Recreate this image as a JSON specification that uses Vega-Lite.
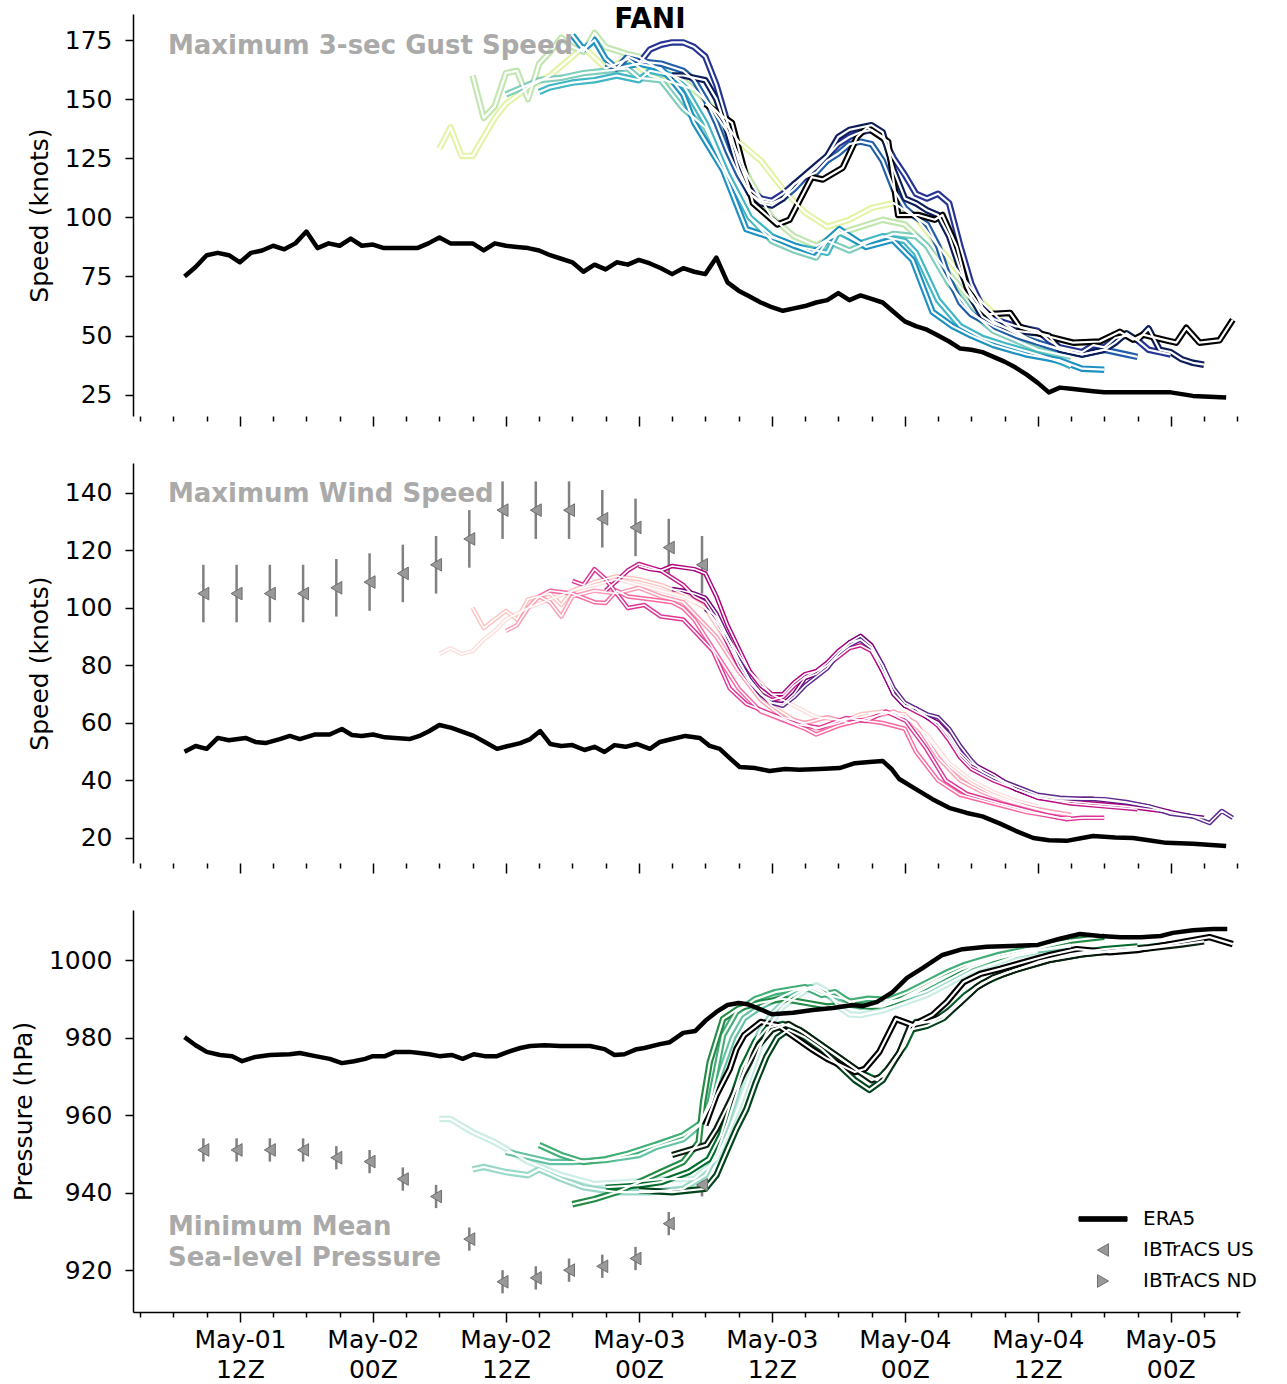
{
"$schema": "https://vega.github.io/schema/vega-lite/v6.json",
"background": "white",
"padding": {"left": 11, "top": 5, "right": 5, "bottom": 5},
"spacing": 36,
"resolve": {"scale": {"color": "independent", "fill": "independent", "stroke": "independent", "shape": "independent"}, "legend": {"color": "independent", "fill": "independent", "stroke": "independent", "shape": "independent"}},
"config": {
  "font": "DejaVu Sans",
  "view": {"stroke": null},
  "axis": {"labelFont": "DejaVu Sans", "titleFont": "DejaVu Sans", "labelFontSize": 25, "titleFontSize": 25, "titleFontWeight": "normal", "labelColor": "black", "titleColor": "black", "domainColor": "black", "tickColor": "black", "grid": false, "domainWidth": 1.5, "tickWidth": 1.5},
  "legend": {"labelFont": "DejaVu Sans", "labelFontSize": 20, "labelColor": "black", "rowPadding": 11, "labelOffset": 30, "symbolSize": 160, "padding": 0, "symbolStrokeWidth": 1, "symbolOpacity": 1}
},
"datasets": {
  "era_g": [{"h":7,"v":75},{"h":8,"v":79},{"h":9,"v":84},{"h":10,"v":85},{"h":11,"v":84},{"h":12,"v":81},{"h":13,"v":85},{"h":14,"v":86},{"h":15,"v":88},{"h":16,"v":86.5},{"h":17,"v":89},{"h":18,"v":94},{"h":19,"v":87},{"h":20,"v":89},{"h":21,"v":88},{"h":22,"v":91},{"h":23,"v":88},{"h":24,"v":88.5},{"h":25,"v":87},{"h":26,"v":87},{"h":27,"v":87},{"h":28,"v":87},{"h":29,"v":89},{"h":30,"v":91.5},{"h":31,"v":89},{"h":32,"v":89},{"h":33,"v":89},{"h":34,"v":86},{"h":35,"v":89},{"h":36,"v":88},{"h":37,"v":87.5},{"h":38,"v":87},{"h":39,"v":86},{"h":40,"v":84},{"h":41,"v":82.5},{"h":42,"v":81},{"h":43,"v":77},{"h":44,"v":80},{"h":45,"v":78},{"h":46,"v":81},{"h":47,"v":80},{"h":48,"v":82},{"h":49,"v":80.5},{"h":50,"v":78.5},{"h":51,"v":76},{"h":52,"v":78.5},{"h":53,"v":77},{"h":54,"v":76},{"h":55,"v":83},{"h":56,"v":72.5},{"h":57,"v":69},{"h":58,"v":66.5},{"h":59,"v":64},{"h":60,"v":62},{"h":61,"v":60.5},{"h":62,"v":61.5},{"h":63,"v":62.5},{"h":64,"v":64},{"h":65,"v":65},{"h":66,"v":68},{"h":67,"v":65},{"h":68,"v":67},{"h":69,"v":65.5},{"h":70,"v":64},{"h":71,"v":60},{"h":72,"v":56},{"h":73,"v":54},{"h":74,"v":52.5},{"h":75,"v":50},{"h":76,"v":47.5},{"h":77,"v":44.5},{"h":78,"v":44},{"h":79,"v":43},{"h":80,"v":41},{"h":81,"v":39},{"h":82,"v":36.5},{"h":83,"v":33.5},{"h":84,"v":30},{"h":85,"v":26},{"h":86,"v":28},{"h":87,"v":27.5},{"h":88,"v":27},{"h":89,"v":26.5},{"h":90,"v":26},{"h":92,"v":26},{"h":94,"v":26},{"h":96,"v":26},{"h":98,"v":24.5},{"h":100,"v":24},{"h":101,"v":23.8}],
  "era_w": [{"h":7,"v":50},{"h":8,"v":52},{"h":9,"v":51},{"h":10,"v":54.8},{"h":11,"v":54},{"h":12.5,"v":54.8},{"h":13.4,"v":53.4},{"h":14.3,"v":53},{"h":15.6,"v":54.4},{"h":16.5,"v":55.5},{"h":17.4,"v":54.4},{"h":18.8,"v":56},{"h":20.1,"v":56},{"h":21.2,"v":57.9},{"h":22.1,"v":55.8},{"h":23,"v":55.5},{"h":24,"v":56},{"h":25.1,"v":55},{"h":26,"v":54.8},{"h":27.3,"v":54.4},{"h":28.2,"v":55.5},{"h":29.1,"v":57.2},{"h":30,"v":59.3},{"h":31.1,"v":58.3},{"h":32.1,"v":56.9},{"h":33.1,"v":55.5},{"h":34.1,"v":53.4},{"h":35.2,"v":51},{"h":36.2,"v":52},{"h":37.3,"v":53},{"h":38.2,"v":54.4},{"h":39.1,"v":57.2},{"h":40,"v":52.7},{"h":41,"v":52},{"h":42,"v":52.3},{"h":43.1,"v":50.6},{"h":44,"v":51.7},{"h":44.9,"v":49.9},{"h":45.8,"v":52.3},{"h":46.8,"v":51.7},{"h":47.8,"v":52.7},{"h":49,"v":51},{"h":49.9,"v":53.4},{"h":51,"v":54.4},{"h":52.2,"v":55.5},{"h":53.5,"v":54.8},{"h":54.4,"v":52},{"h":55.3,"v":51},{"h":56.2,"v":47.8},{"h":57.1,"v":44.7},{"h":58.5,"v":44.3},{"h":59.8,"v":43.3},{"h":61.2,"v":44},{"h":62.5,"v":43.7},{"h":64.3,"v":44},{"h":66.1,"v":44.3},{"h":67.5,"v":46},{"h":68.8,"v":46.4},{"h":70,"v":46.8},{"h":70.8,"v":44},{"h":71.5,"v":40.5},{"h":73,"v":37},{"h":74.5,"v":33.5},{"h":76,"v":30.5},{"h":77.6,"v":28.7},{"h":79,"v":27.5},{"h":80.6,"v":25},{"h":82,"v":22.5},{"h":83.6,"v":20},{"h":85,"v":19.2},{"h":86.6,"v":19},{"h":88,"v":20},{"h":89,"v":20.7},{"h":91,"v":20.2},{"h":92.6,"v":20},{"h":94,"v":19.2},{"h":95.6,"v":18.3},{"h":98,"v":18},{"h":101,"v":17.2}],
  "era_p": [{"h":7,"v":980.1},{"h":8,"v":978},{"h":9,"v":976.3},{"h":10.2,"v":975.5},{"h":11.3,"v":975.2},{"h":12.2,"v":973.9},{"h":13.4,"v":975},{"h":14.7,"v":975.5},{"h":16.5,"v":975.7},{"h":17.4,"v":976},{"h":18.8,"v":975.2},{"h":20.1,"v":974.5},{"h":21.2,"v":973.4},{"h":22.3,"v":973.9},{"h":23.3,"v":974.5},{"h":24,"v":975.2},{"h":25.1,"v":975.2},{"h":26,"v":976.3},{"h":27.3,"v":976.3},{"h":28.2,"v":976},{"h":29.1,"v":975.7},{"h":30,"v":975.2},{"h":31.1,"v":975.5},{"h":32.1,"v":974.5},{"h":33.1,"v":975.7},{"h":34.1,"v":975.2},{"h":35.2,"v":975.2},{"h":36.2,"v":976.3},{"h":37.3,"v":977.3},{"h":38.2,"v":977.8},{"h":39.5,"v":978},{"h":40.9,"v":977.8},{"h":42.2,"v":977.8},{"h":43.6,"v":977.8},{"h":44.9,"v":977},{"h":45.8,"v":975.5},{"h":46.7,"v":975.7},{"h":47.8,"v":977},{"h":48.5,"v":977.3},{"h":49.9,"v":978.3},{"h":50.8,"v":978.8},{"h":52,"v":981.2},{"h":53.1,"v":981.7},{"h":54,"v":984.3},{"h":55,"v":986.6},{"h":56,"v":988.4},{"h":57,"v":988.9},{"h":57.8,"v":988.6},{"h":58.7,"v":987.6},{"h":60,"v":986},{"h":61.9,"v":986.4},{"h":63.7,"v":987.1},{"h":65.5,"v":987.6},{"h":67.3,"v":988.4},{"h":68.2,"v":988.1},{"h":69.5,"v":989.2},{"h":70.9,"v":991.7},{"h":72.2,"v":995.4},{"h":73.6,"v":997.9},{"h":75.4,"v":1001.3},{"h":77.2,"v":1002.8},{"h":79.4,"v":1003.4},{"h":81.6,"v":1003.6},{"h":84,"v":1003.9},{"h":86,"v":1005.5},{"h":87.8,"v":1006.7},{"h":89.6,"v":1006.2},{"h":91.5,"v":1005.9},{"h":93.3,"v":1005.9},{"h":95.1,"v":1006.2},{"h":96.2,"v":1007},{"h":98,"v":1007.7},{"h":99.8,"v":1008},{"h":101.1,"v":1008}],
  "gust": [
{"f":30,"h":30,"v":129},{"f":30,"h":31,"v":138},{"f":30,"h":32,"v":126},{"f":30,"h":33,"v":126},{"f":30,"h":34,"v":134},{"f":30,"h":35,"v":142},{"f":30,"h":36,"v":148},{"f":30,"h":38,"v":155},{"f":30,"h":40,"v":160},{"f":30,"h":42,"v":168},{"f":30,"h":43,"v":172},{"f":30,"h":45,"v":163},{"f":30,"h":47,"v":167},{"f":30,"h":49,"v":160},{"f":30,"h":51,"v":157},{"f":30,"h":53,"v":154},{"f":30,"h":55,"v":145},{"f":30,"h":57,"v":132},{"f":30,"h":59,"v":124},{"f":30,"h":61,"v":112},{"f":30,"h":63,"v":102},{"f":30,"h":65,"v":96},{"f":30,"h":67,"v":99},{"f":30,"h":69,"v":104},{"f":30,"h":71,"v":106},{"f":30,"h":73,"v":100},{"f":30,"h":75,"v":88},{"f":30,"h":77,"v":76},{"f":30,"h":79,"v":64},{"f":30,"h":81,"v":55},{"f":30,"h":83,"v":49},{"f":30,"h":84,"v":47},
{"f":33,"h":33,"v":160},{"f":33,"h":34,"v":142},{"f":33,"h":35,"v":147},{"f":33,"h":36,"v":161},{"f":33,"h":37,"v":162},{"f":33,"h":38,"v":150},{"f":33,"h":39,"v":165},{"f":33,"h":40,"v":170},{"f":33,"h":41,"v":176},{"f":33,"h":42,"v":172},{"f":33,"h":43,"v":170},{"f":33,"h":44,"v":178},{"f":33,"h":45,"v":172},{"f":33,"h":47,"v":169},{"f":33,"h":48,"v":168},{"f":33,"h":50,"v":162},{"f":33,"h":52,"v":158},{"f":33,"h":54,"v":150},{"f":33,"h":56,"v":136},{"f":33,"h":58,"v":116},{"f":33,"h":60,"v":100},{"f":33,"h":62,"v":92},{"f":33,"h":64,"v":88},{"f":33,"h":66,"v":93},{"f":33,"h":68,"v":96},{"f":33,"h":70,"v":99},{"f":33,"h":72,"v":97},{"f":33,"h":74,"v":88},{"f":33,"h":76,"v":76},{"f":33,"h":78,"v":65},{"f":33,"h":80,"v":56},{"f":33,"h":82,"v":51},{"f":33,"h":84,"v":47},{"f":33,"h":87,"v":43},
{"f":36,"h":36,"v":152},{"f":36,"h":37,"v":154},{"f":36,"h":38,"v":156},{"f":36,"h":39,"v":158},{"f":36,"h":41,"v":159},{"f":36,"h":43,"v":161},{"f":36,"h":45,"v":162},{"f":36,"h":47,"v":163},{"f":36,"h":48,"v":159},{"f":36,"h":50,"v":158},{"f":36,"h":51,"v":152},{"f":36,"h":52,"v":146},{"f":36,"h":54,"v":138},{"f":36,"h":56,"v":118},{"f":36,"h":58,"v":100},{"f":36,"h":60,"v":90},{"f":36,"h":62,"v":86},{"f":36,"h":64,"v":83},{"f":36,"h":65,"v":90},{"f":36,"h":67,"v":86},{"f":36,"h":69,"v":90},{"f":36,"h":71,"v":93},{"f":36,"h":73,"v":92},{"f":36,"h":74,"v":88},{"f":36,"h":76,"v":72},{"f":36,"h":78,"v":60},{"f":36,"h":80,"v":52},{"f":36,"h":82,"v":48},{"f":36,"h":84,"v":44},{"f":36,"h":87,"v":41},
{"f":39,"h":39,"v":153},{"f":39,"h":40,"v":155},{"f":39,"h":42,"v":157},{"f":39,"h":44,"v":158},{"f":39,"h":46,"v":160},{"f":39,"h":48,"v":158},{"f":39,"h":49,"v":162},{"f":39,"h":51,"v":160},{"f":39,"h":52,"v":156},{"f":39,"h":54,"v":140},{"f":39,"h":56,"v":118},{"f":39,"h":58,"v":100},{"f":39,"h":60,"v":92},{"f":39,"h":62,"v":88},{"f":39,"h":64,"v":86},{"f":39,"h":65,"v":85},{"f":39,"h":66,"v":94},{"f":39,"h":68,"v":89},{"f":39,"h":70,"v":92},{"f":39,"h":72,"v":90},{"f":39,"h":73,"v":85},{"f":39,"h":75,"v":65},{"f":39,"h":77,"v":54},{"f":39,"h":79,"v":49},{"f":39,"h":81,"v":46},{"f":39,"h":84,"v":42},{"f":39,"h":86,"v":39},{"f":39,"h":87,"v":37},
{"f":42,"h":42,"v":177},{"f":42,"h":43,"v":171},{"f":42,"h":44,"v":175},{"f":42,"h":45,"v":167},{"f":42,"h":46,"v":163},{"f":42,"h":48,"v":165},{"f":42,"h":50,"v":163},{"f":42,"h":51,"v":158},{"f":42,"h":52,"v":152},{"f":42,"h":53,"v":140},{"f":42,"h":55.6,"v":120},{"f":42,"h":57.7,"v":95},{"f":42,"h":59,"v":93},{"f":42,"h":61,"v":90},{"f":42,"h":63.7,"v":85},{"f":42,"h":66.1,"v":95},{"f":42,"h":68.5,"v":87.5},{"f":42,"h":70.9,"v":90.5},{"f":42,"h":72.7,"v":82},{"f":42,"h":74.5,"v":60},{"f":42,"h":76.3,"v":54},{"f":42,"h":78,"v":50},{"f":42,"h":80,"v":46},{"f":42,"h":83,"v":42},{"f":42,"h":86,"v":39.5},{"f":42,"h":88,"v":36},{"f":42,"h":90,"v":35.6},
{"f":45,"h":45,"v":165},{"f":45,"h":46,"v":163},{"f":45,"h":47,"v":168},{"f":45,"h":48,"v":166},{"f":45,"h":50,"v":165},{"f":45,"h":52,"v":162},{"f":45,"h":53,"v":158},{"f":45,"h":54,"v":150},{"f":45,"h":55,"v":140},{"f":45,"h":56,"v":128},{"f":45,"h":57,"v":118},{"f":45,"h":58,"v":110},{"f":45,"h":59,"v":107},{"f":45,"h":60,"v":106},{"f":45,"h":61,"v":108},{"f":45,"h":62,"v":112},{"f":45,"h":63,"v":117},{"f":45,"h":64,"v":119},{"f":45,"h":65,"v":124},{"f":45,"h":66,"v":127},{"f":45,"h":67,"v":131},{"f":45,"h":68,"v":132},{"f":45,"h":69,"v":131},{"f":45,"h":70,"v":124},{"f":45,"h":71,"v":112},{"f":45,"h":72,"v":104},{"f":45,"h":73,"v":100},{"f":45,"h":74,"v":97},{"f":45,"h":75,"v":88},{"f":45,"h":76,"v":74},{"f":45,"h":77,"v":64},{"f":45,"h":78,"v":59},{"f":45,"h":80,"v":54},{"f":45,"h":82,"v":50},{"f":45,"h":84,"v":47},{"f":45,"h":86,"v":44},{"f":45,"h":88,"v":42},{"f":45,"h":90,"v":44},{"f":45,"h":92,"v":42},{"f":45,"h":93,"v":41},
{"f":48,"h":48,"v":165},{"f":48,"h":49,"v":171},{"f":48,"h":50,"v":173},{"f":48,"h":51,"v":174},{"f":48,"h":52,"v":174},{"f":48,"h":53,"v":172},{"f":48,"h":54,"v":168},{"f":48,"h":55,"v":156},{"f":48,"h":56,"v":140},{"f":48,"h":57,"v":124},{"f":48,"h":58,"v":112},{"f":48,"h":59,"v":108},{"f":48,"h":60,"v":107},{"f":48,"h":61,"v":110},{"f":48,"h":62,"v":114},{"f":48,"h":63,"v":117},{"f":48,"h":64,"v":121},{"f":48,"h":65,"v":126},{"f":48,"h":66,"v":131},{"f":48,"h":67,"v":134},{"f":48,"h":68,"v":136},{"f":48,"h":69,"v":137},{"f":48,"h":70,"v":134},{"f":48,"h":71,"v":125},{"f":48,"h":72,"v":118},{"f":48,"h":73,"v":110},{"f":48,"h":74,"v":108},{"f":48,"h":75,"v":110},{"f":48,"h":76,"v":106},{"f":48,"h":77,"v":88},{"f":48,"h":78,"v":72},{"f":48,"h":79,"v":62},{"f":48,"h":80,"v":57},{"f":48,"h":82,"v":54},{"f":48,"h":84,"v":52},{"f":48,"h":85,"v":48},{"f":48,"h":86,"v":45},{"f":48,"h":88,"v":43},{"f":48,"h":89,"v":46},{"f":48,"h":90,"v":45},{"f":48,"h":91,"v":49},{"f":48,"h":92,"v":50},{"f":48,"h":93,"v":48},{"f":48,"h":94,"v":44},{"f":48,"h":95,"v":43},{"f":48,"h":96,"v":42},
{"f":51,"h":51,"v":160},{"f":51,"h":52,"v":160},{"f":51,"h":53,"v":159},{"f":51,"h":54,"v":158},{"f":51,"h":55,"v":150},{"f":51,"h":56,"v":136},{"f":51,"h":57,"v":120},{"f":51,"h":58,"v":110},{"f":51,"h":59,"v":106},{"f":51,"h":60,"v":105},{"f":51,"h":61,"v":108},{"f":51,"h":62,"v":114},{"f":51,"h":63,"v":118},{"f":51,"h":64,"v":122},{"f":51,"h":65,"v":126},{"f":51,"h":66,"v":134},{"f":51,"h":67,"v":137},{"f":51,"h":68,"v":138},{"f":51,"h":69,"v":139},{"f":51,"h":70,"v":136},{"f":51,"h":71,"v":120},{"f":51,"h":72,"v":108},{"f":51,"h":73,"v":106},{"f":51,"h":74,"v":103},{"f":51,"h":75,"v":101},{"f":51,"h":76,"v":92},{"f":51,"h":77,"v":78},{"f":51,"h":78,"v":66},{"f":51,"h":79,"v":58},{"f":51,"h":80,"v":55},{"f":51,"h":82,"v":52},{"f":51,"h":84,"v":51},{"f":51,"h":85,"v":50},{"f":51,"h":86,"v":44},{"f":51,"h":88,"v":42},{"f":51,"h":90,"v":44},{"f":51,"h":91,"v":47},{"f":51,"h":92,"v":51},{"f":51,"h":93,"v":48},{"f":51,"h":94,"v":53},{"f":51,"h":95,"v":44},{"f":51,"h":96,"v":43},{"f":51,"h":97,"v":40},{"f":51,"h":98,"v":38.5},{"f":51,"h":99,"v":37.7},
{"f":54,"h":54,"v":148},{"f":54,"h":56.4,"v":140},{"f":54,"h":58.3,"v":106},{"f":54,"h":60.5,"v":97},{"f":54,"h":61.6,"v":99},{"f":54,"h":63.6,"v":117},{"f":54,"h":64.6,"v":116},{"f":54,"h":66.4,"v":121},{"f":54,"h":67.7,"v":134},{"f":54,"h":68.6,"v":138},{"f":54,"h":70.5,"v":132},{"f":54,"h":71.4,"v":101},{"f":54,"h":73.2,"v":101},{"f":54,"h":74.7,"v":99},{"f":54,"h":75.4,"v":101},{"f":54,"h":76.7,"v":87.5},{"f":54,"h":77.6,"v":70.5},{"f":54,"h":78.8,"v":62},{"f":54,"h":79.4,"v":59},{"f":54,"h":81.5,"v":59.6},{"f":54,"h":82.4,"v":53.6},{"f":54,"h":85.1,"v":49.5},{"f":54,"h":87.2,"v":47},{"f":54,"h":89.6,"v":47.5},{"f":54,"h":91.4,"v":51.6},{"f":54,"h":92.6,"v":48.3},{"f":54,"h":93.5,"v":50.4},{"f":54,"h":95.6,"v":48},{"f":54,"h":96.5,"v":47},{"f":54,"h":97.4,"v":53.3},{"f":54,"h":98.6,"v":47},{"f":54,"h":100.4,"v":48},{"f":54,"h":101.6,"v":56.7}
  ],
  "wind": [
{"f":30,"h":30,"v":84},{"f":30,"h":31,"v":86},{"f":30,"h":32,"v":84},{"f":30,"h":33,"v":85},{"f":30,"h":34,"v":89},{"f":30,"h":35,"v":92},{"f":30,"h":36,"v":96},{"f":30,"h":38,"v":100},{"f":30,"h":40,"v":103},{"f":30,"h":42,"v":106},{"f":30,"h":44,"v":108},{"f":30,"h":46,"v":110},{"f":30,"h":48,"v":108},{"f":30,"h":50,"v":106},{"f":30,"h":52,"v":104},{"f":30,"h":54,"v":100},{"f":30,"h":56,"v":90},{"f":30,"h":58,"v":78},{"f":30,"h":60,"v":70},{"f":30,"h":62,"v":66},{"f":30,"h":64,"v":62},{"f":30,"h":66,"v":61},{"f":30,"h":68,"v":62},{"f":30,"h":70,"v":64},{"f":30,"h":72,"v":62},{"f":30,"h":74,"v":56},{"f":30,"h":76,"v":46},{"f":30,"h":78,"v":40},{"f":30,"h":80,"v":36},{"f":30,"h":82,"v":33},{"f":30,"h":84,"v":31},
{"f":33,"h":33,"v":100},{"f":33,"h":34,"v":93},{"f":33,"h":35,"v":96},{"f":33,"h":36,"v":99},{"f":33,"h":37,"v":96},{"f":33,"h":38,"v":103},{"f":33,"h":40,"v":105},{"f":33,"h":41,"v":101},{"f":33,"h":42,"v":106},{"f":33,"h":44,"v":109},{"f":33,"h":46,"v":111},{"f":33,"h":48,"v":110},{"f":33,"h":50,"v":108},{"f":33,"h":52,"v":105},{"f":33,"h":54,"v":100},{"f":33,"h":56,"v":88},{"f":33,"h":58,"v":75},{"f":33,"h":60,"v":66},{"f":33,"h":62,"v":61},{"f":33,"h":64,"v":58},{"f":33,"h":66,"v":60},{"f":33,"h":68,"v":63},{"f":33,"h":70,"v":64},{"f":33,"h":72,"v":63},{"f":33,"h":74,"v":55},{"f":33,"h":76,"v":45},{"f":33,"h":78,"v":39},{"f":33,"h":80,"v":35},{"f":33,"h":83,"v":31},{"f":33,"h":85,"v":29},{"f":33,"h":87,"v":28},
{"f":36,"h":36,"v":92},{"f":36,"h":37,"v":94},{"f":36,"h":38,"v":100},{"f":36,"h":39,"v":104},{"f":36,"h":40,"v":102},{"f":36,"h":41,"v":97},{"f":36,"h":42,"v":104},{"f":36,"h":44,"v":106},{"f":36,"h":46,"v":105},{"f":36,"h":48,"v":107},{"f":36,"h":50,"v":104},{"f":36,"h":52,"v":102},{"f":36,"h":53,"v":98},{"f":36,"h":55,"v":90},{"f":36,"h":57,"v":78},{"f":36,"h":59,"v":68},{"f":36,"h":61,"v":62},{"f":36,"h":63,"v":60},{"f":36,"h":65,"v":62},{"f":36,"h":67,"v":60},{"f":36,"h":69,"v":62},{"f":36,"h":71,"v":64},{"f":36,"h":73,"v":60},{"f":36,"h":75,"v":48},{"f":36,"h":77,"v":40},{"f":36,"h":79,"v":36},{"f":36,"h":81,"v":33},{"f":36,"h":84,"v":30},{"f":36,"h":87,"v":28},
{"f":39,"h":39,"v":104},{"f":39,"h":40,"v":106},{"f":39,"h":42,"v":105},{"f":39,"h":44,"v":102},{"f":39,"h":45,"v":101.7},{"f":39,"h":46,"v":106},{"f":39,"h":47,"v":104},{"f":39,"h":49,"v":103},{"f":39,"h":51,"v":102},{"f":39,"h":52,"v":100},{"f":39,"h":53,"v":96},{"f":39,"h":55,"v":84},{"f":39,"h":57,"v":72},{"f":39,"h":59,"v":64},{"f":39,"h":61,"v":61},{"f":39,"h":63,"v":58},{"f":39,"h":64,"v":56},{"f":39,"h":66,"v":59},{"f":39,"h":68,"v":61},{"f":39,"h":70,"v":60},{"f":39,"h":72,"v":58},{"f":39,"h":73,"v":50},{"f":39,"h":75,"v":40},{"f":39,"h":77,"v":35},{"f":39,"h":80,"v":32},{"f":39,"h":83,"v":29},{"f":39,"h":86,"v":27},{"f":39,"h":87,"v":27},
{"f":42,"h":42,"v":109.4},{"f":42,"h":43,"v":108},{"f":42,"h":44,"v":113.5},{"f":42,"h":45,"v":110},{"f":42,"h":47,"v":100},{"f":42,"h":48.5,"v":101},{"f":42,"h":50,"v":97},{"f":42,"h":52,"v":96},{"f":42,"h":53,"v":92},{"f":42,"h":54.7,"v":85},{"f":42,"h":56.2,"v":72},{"f":42,"h":57.7,"v":66.6},{"f":42,"h":60,"v":63},{"f":42,"h":62.2,"v":59.6},{"f":42,"h":64.3,"v":58.3},{"f":42,"h":66.7,"v":61.7},{"f":42,"h":68.5,"v":60.7},{"f":42,"h":70.3,"v":64},{"f":42,"h":72.1,"v":60.7},{"f":42,"h":73.9,"v":51.3},{"f":42,"h":75.7,"v":40},{"f":42,"h":77.6,"v":35.3},{"f":42,"h":80.6,"v":32},{"f":42,"h":83.6,"v":29},{"f":42,"h":86.6,"v":26.5},{"f":42,"h":88,"v":27},{"f":42,"h":90,"v":27},
{"f":45,"h":45,"v":106},{"f":45,"h":46,"v":109.4},{"f":45,"h":47,"v":113},{"f":45,"h":48,"v":115.3},{"f":45,"h":50,"v":113},{"f":45,"h":52,"v":108},{"f":45,"h":53,"v":104},{"f":45,"h":54,"v":102},{"f":45,"h":55,"v":96},{"f":45,"h":56,"v":88},{"f":45,"h":57,"v":80},{"f":45,"h":58,"v":74},{"f":45,"h":59,"v":70},{"f":45,"h":60,"v":68},{"f":45,"h":61,"v":69},{"f":45,"h":62,"v":73},{"f":45,"h":63,"v":76},{"f":45,"h":64,"v":78},{"f":45,"h":65,"v":80},{"f":45,"h":66,"v":83},{"f":45,"h":67,"v":86},{"f":45,"h":68,"v":87},{"f":45,"h":69,"v":85},{"f":45,"h":70,"v":78},{"f":45,"h":71,"v":70},{"f":45,"h":72,"v":66},{"f":45,"h":73,"v":64},{"f":45,"h":74,"v":62},{"f":45,"h":75,"v":59},{"f":45,"h":76,"v":54},{"f":45,"h":77,"v":48},{"f":45,"h":78,"v":44},{"f":45,"h":80,"v":40},{"f":45,"h":82,"v":37},{"f":45,"h":84,"v":34},{"f":45,"h":87,"v":32},{"f":45,"h":90,"v":31},{"f":45,"h":93,"v":30},
{"f":48,"h":48,"v":114.6},{"f":48,"h":49,"v":113.5},{"f":48,"h":50,"v":113},{"f":48,"h":51,"v":114.6},{"f":48,"h":53,"v":113.5},{"f":48,"h":54,"v":112},{"f":48,"h":55,"v":104},{"f":48,"h":56,"v":94},{"f":48,"h":57,"v":86},{"f":48,"h":58,"v":78},{"f":48,"h":59,"v":73},{"f":48,"h":60,"v":70},{"f":48,"h":61,"v":70},{"f":48,"h":62,"v":74},{"f":48,"h":63,"v":77},{"f":48,"h":64,"v":78},{"f":48,"h":65,"v":81},{"f":48,"h":66,"v":85},{"f":48,"h":67,"v":88},{"f":48,"h":68,"v":89},{"f":48,"h":69,"v":86},{"f":48,"h":70,"v":78},{"f":48,"h":71,"v":70},{"f":48,"h":72,"v":66},{"f":48,"h":73,"v":65},{"f":48,"h":74,"v":62},{"f":48,"h":75,"v":60},{"f":48,"h":76,"v":55},{"f":48,"h":77,"v":49},{"f":48,"h":78,"v":45},{"f":48,"h":80,"v":41},{"f":48,"h":82,"v":37},{"f":48,"h":84,"v":34},{"f":48,"h":86,"v":33},{"f":48,"h":89,"v":32},{"f":48,"h":92,"v":31},{"f":48,"h":94,"v":30},{"f":48,"h":96,"v":29},
{"f":51,"h":51,"v":106.6},{"f":51,"h":52,"v":106},{"f":51,"h":53,"v":105},{"f":51,"h":54,"v":103.5},{"f":51,"h":55,"v":98},{"f":51,"h":56,"v":90},{"f":51,"h":57,"v":82},{"f":51,"h":58,"v":75},{"f":51,"h":59,"v":70},{"f":51,"h":60,"v":67},{"f":51,"h":61,"v":66.6},{"f":51,"h":62,"v":70},{"f":51,"h":63,"v":75.6},{"f":51,"h":64,"v":77},{"f":51,"h":65,"v":80},{"f":51,"h":66,"v":84},{"f":51,"h":67,"v":88},{"f":51,"h":68,"v":90.3},{"f":51,"h":69,"v":87},{"f":51,"h":70,"v":80},{"f":51,"h":71,"v":70},{"f":51,"h":72,"v":66},{"f":51,"h":73,"v":65},{"f":51,"h":74,"v":62},{"f":51,"h":75,"v":60},{"f":51,"h":76,"v":56},{"f":51,"h":77,"v":50},{"f":51,"h":78,"v":46},{"f":51,"h":80,"v":42},{"f":51,"h":82,"v":37},{"f":51,"h":84,"v":34.5},{"f":51,"h":86,"v":33.6},{"f":51,"h":89,"v":33.6},{"f":51,"h":92,"v":32.3},{"f":51,"h":94,"v":31},{"f":51,"h":96,"v":29},{"f":51,"h":98,"v":27.5},{"f":51,"h":99,"v":27},
{"f":54,"h":54,"v":99.7},{"f":54,"h":55,"v":97},{"f":54,"h":56,"v":90},{"f":54,"h":57,"v":82},{"f":54,"h":58,"v":75},{"f":54,"h":59,"v":70},{"f":54,"h":60,"v":67},{"f":54,"h":61,"v":66},{"f":54,"h":62,"v":69},{"f":54,"h":63,"v":73},{"f":54,"h":64,"v":76},{"f":54,"h":65,"v":79},{"f":54,"h":66,"v":84},{"f":54,"h":67,"v":87},{"f":54,"h":68,"v":89},{"f":54,"h":69,"v":86},{"f":54,"h":70,"v":80},{"f":54,"h":71,"v":72},{"f":54,"h":72,"v":67},{"f":54,"h":73,"v":65},{"f":54,"h":74,"v":63},{"f":54,"h":75,"v":62},{"f":54,"h":76,"v":58},{"f":54,"h":77,"v":52},{"f":54,"h":78,"v":47},{"f":54,"h":79,"v":43},{"f":54,"h":80,"v":41},{"f":54,"h":82,"v":38},{"f":54,"h":84,"v":35},{"f":54,"h":86,"v":34},{"f":54,"h":88,"v":33.6},{"f":54,"h":90,"v":33.5},{"f":54,"h":92,"v":32.5},{"f":54,"h":94,"v":31},{"f":54,"h":96,"v":28.4},{"f":54,"h":98,"v":27.5},{"f":54,"h":99.5,"v":25.2},{"f":54,"h":100.6,"v":29.4},{"f":54,"h":101.6,"v":27}
  ],
  "pres": [
{"f":30,"h":30,"v":959},{"f":30,"h":31,"v":959},{"f":30,"h":33,"v":955.6},{"f":30,"h":35,"v":953},{"f":30,"h":38,"v":948},{"f":30,"h":41,"v":944.5},{"f":30,"h":44,"v":942.2},{"f":30,"h":47,"v":942.7},{"f":30,"h":50,"v":943.5},{"f":30,"h":53,"v":943.5},{"f":30,"h":55,"v":948.6},{"f":30,"h":56,"v":955},{"f":30,"h":57,"v":962},{"f":30,"h":58,"v":970},{"f":30,"h":59,"v":978},{"f":30,"h":60,"v":984},{"f":30,"h":61,"v":988},{"f":30,"h":62,"v":990},{"f":30,"h":63,"v":992},{"f":30,"h":64,"v":993.5},{"f":30,"h":65,"v":992},{"f":30,"h":66,"v":988},{"f":30,"h":67,"v":986},{"f":30,"h":68,"v":985.8},{"f":30,"h":70,"v":987},{"f":30,"h":72,"v":989},{"f":30,"h":74,"v":991},{"f":30,"h":76,"v":994},{"f":30,"h":78,"v":997},{"f":30,"h":80,"v":999},{"f":30,"h":82,"v":1001},{"f":30,"h":84,"v":1002},
{"f":33,"h":33,"v":946},{"f":33,"h":34,"v":946.6},{"f":33,"h":36,"v":945.3},{"f":33,"h":38,"v":944.5},{"f":33,"h":39,"v":946},{"f":33,"h":41,"v":943.5},{"f":33,"h":43,"v":941.4},{"f":33,"h":46,"v":940.1},{"f":33,"h":49,"v":940.1},{"f":33,"h":52,"v":941},{"f":33,"h":54,"v":944.5},{"f":33,"h":55,"v":950},{"f":33,"h":56,"v":958},{"f":33,"h":57,"v":967},{"f":33,"h":58,"v":976},{"f":33,"h":59,"v":982},{"f":33,"h":60,"v":986},{"f":33,"h":61,"v":989},{"f":33,"h":62,"v":991},{"f":33,"h":63,"v":992.5},{"f":33,"h":64,"v":993},{"f":33,"h":65,"v":991},{"f":33,"h":66,"v":989},{"f":33,"h":68,"v":988},{"f":33,"h":70,"v":988},{"f":33,"h":72,"v":990},{"f":33,"h":74,"v":992},{"f":33,"h":76,"v":995},{"f":33,"h":78,"v":998},{"f":33,"h":80,"v":1000},{"f":33,"h":82,"v":1001.5},{"f":33,"h":84,"v":1002.5},{"f":33,"h":87,"v":1003.5},
{"f":36,"h":36,"v":950.5},{"f":36,"h":38,"v":949.2},{"f":36,"h":40,"v":947.9},{"f":36,"h":42,"v":947.9},{"f":36,"h":45,"v":948.4},{"f":36,"h":48,"v":949.7},{"f":36,"h":49.5,"v":951.7},{"f":36,"h":52,"v":953.8},{"f":36,"h":53.5,"v":957.4},{"f":36,"h":54.5,"v":963},{"f":36,"h":55.5,"v":972},{"f":36,"h":56.5,"v":980},{"f":36,"h":57.5,"v":985},{"f":36,"h":59,"v":988},{"f":36,"h":60.5,"v":990},{"f":36,"h":62,"v":992},{"f":36,"h":63.5,"v":993},{"f":36,"h":65,"v":991},{"f":36,"h":66.5,"v":990},{"f":36,"h":68,"v":988},{"f":36,"h":70,"v":989},{"f":36,"h":72,"v":990},{"f":36,"h":74,"v":993},{"f":36,"h":76,"v":996},{"f":36,"h":78,"v":999},{"f":36,"h":80,"v":1000.5},{"f":36,"h":83,"v":1002},{"f":36,"h":87,"v":1004},
{"f":39,"h":39,"v":952.3},{"f":39,"h":41,"v":949.7},{"f":39,"h":43,"v":947.9},{"f":39,"h":45,"v":948.6},{"f":39,"h":47,"v":950},{"f":39,"h":49.5,"v":952.3},{"f":39,"h":52,"v":954.8},{"f":39,"h":53.5,"v":957.7},{"f":39,"h":54.4,"v":963.4},{"f":39,"h":55,"v":971.9},{"f":39,"h":55.6,"v":980.6},{"f":39,"h":56.8,"v":986.6},{"f":39,"h":58.5,"v":989.9},{"f":39,"h":60.3,"v":991.7},{"f":39,"h":61.9,"v":992.5},{"f":39,"h":63,"v":993},{"f":39,"h":64.5,"v":991},{"f":39,"h":65.7,"v":991.7},{"f":39,"h":67,"v":989.2},{"f":39,"h":68.7,"v":990},{"f":39,"h":70.5,"v":989.7},{"f":39,"h":72.3,"v":991.7},{"f":39,"h":74.1,"v":994.3},{"f":39,"h":75.9,"v":996.9},{"f":39,"h":77.4,"v":998.7},{"f":39,"h":78.9,"v":1000},{"f":39,"h":80.5,"v":1001.3},{"f":39,"h":83,"v":1002.8},{"f":39,"h":86,"v":1004.5},{"f":39,"h":87,"v":1005},
{"f":42,"h":42,"v":937},{"f":42,"h":44,"v":938.3},{"f":42,"h":46,"v":940.1},{"f":42,"h":48,"v":942.7},{"f":42,"h":50,"v":945.3},{"f":42,"h":52,"v":947.9},{"f":42,"h":53.4,"v":953},{"f":42,"h":53.8,"v":963.4},{"f":42,"h":54.4,"v":973.7},{"f":42,"h":55.6,"v":984.8},{"f":42,"h":57,"v":987.5},{"f":42,"h":59,"v":989},{"f":42,"h":61,"v":990},{"f":42,"h":63,"v":989},{"f":42,"h":65,"v":988},{"f":42,"h":67,"v":988.5},{"f":42,"h":69,"v":988},{"f":42,"h":71,"v":989},{"f":42,"h":73,"v":992},{"f":42,"h":75,"v":995},{"f":42,"h":77,"v":997.5},{"f":42,"h":79,"v":999.5},{"f":42,"h":81,"v":1001},{"f":42,"h":84,"v":1003},{"f":42,"h":87,"v":1005},{"f":42,"h":90,"v":1006},
{"f":45,"h":45,"v":941.4},{"f":45,"h":48,"v":941.9},{"f":45,"h":50,"v":942.7},{"f":45,"h":52.5,"v":945.3},{"f":45,"h":54.3,"v":948.6},{"f":45,"h":55.4,"v":954.8},{"f":45,"h":56.3,"v":963.4},{"f":45,"h":57.3,"v":972},{"f":45,"h":58.5,"v":979},{"f":45,"h":59.6,"v":982.5},{"f":45,"h":61,"v":983.5},{"f":45,"h":62.5,"v":982},{"f":45,"h":64,"v":979},{"f":45,"h":66,"v":975},{"f":45,"h":68,"v":971},{"f":45,"h":69.5,"v":969},{"f":45,"h":70.5,"v":972},{"f":45,"h":72,"v":978},{"f":45,"h":73,"v":984},{"f":45,"h":74.5,"v":984},{"f":45,"h":76,"v":987},{"f":45,"h":77.5,"v":991},{"f":45,"h":79,"v":994},{"f":45,"h":81,"v":996.5},{"f":45,"h":84,"v":999.5},{"f":45,"h":87,"v":1001.5},{"f":45,"h":90,"v":1002.8},{"f":45,"h":93,"v":1003.5},
{"f":48,"h":48,"v":940.6},{"f":48,"h":51,"v":940.1},{"f":48,"h":54,"v":941},{"f":48,"h":55,"v":944.5},{"f":48,"h":55.9,"v":950.5},{"f":48,"h":56.8,"v":956.4},{"f":48,"h":57.7,"v":961.5},{"f":48,"h":58.5,"v":968},{"f":48,"h":59.5,"v":975},{"f":48,"h":60.5,"v":980},{"f":48,"h":61.5,"v":982},{"f":48,"h":63,"v":980},{"f":48,"h":64.5,"v":977},{"f":48,"h":66,"v":973},{"f":48,"h":67.5,"v":969},{"f":48,"h":68.8,"v":966.5},{"f":48,"h":70,"v":969},{"f":48,"h":71.5,"v":976},{"f":48,"h":72.5,"v":982},{"f":48,"h":74,"v":983},{"f":48,"h":75.5,"v":985},{"f":48,"h":77,"v":989},{"f":48,"h":78.5,"v":993},{"f":48,"h":80,"v":995.5},{"f":48,"h":82,"v":997.5},{"f":48,"h":85,"v":1000},{"f":48,"h":88,"v":1001.5},{"f":48,"h":91,"v":1002.5},{"f":48,"h":94,"v":1003.3},{"f":48,"h":96,"v":1004},
{"f":51,"h":51,"v":949.7},{"f":51,"h":54.1,"v":952.3},{"f":51,"h":55,"v":956.4},{"f":51,"h":56.2,"v":963.4},{"f":51,"h":57.5,"v":971},{"f":51,"h":58.8,"v":978},{"f":51,"h":60,"v":982},{"f":51,"h":61.5,"v":983.5},{"f":51,"h":63,"v":981},{"f":51,"h":64.5,"v":978},{"f":51,"h":66,"v":975},{"f":51,"h":67.5,"v":972},{"f":51,"h":69,"v":969},{"f":51,"h":70,"v":970},{"f":51,"h":71.5,"v":976},{"f":51,"h":72.5,"v":983},{"f":51,"h":74,"v":984},{"f":51,"h":75.5,"v":985.5},{"f":51,"h":77,"v":989},{"f":51,"h":78.5,"v":993},{"f":51,"h":80,"v":995.5},{"f":51,"h":82,"v":997.5},{"f":51,"h":85,"v":1000},{"f":51,"h":88,"v":1001.5},{"f":51,"h":91,"v":1002.3},{"f":51,"h":94,"v":1003},{"f":51,"h":97,"v":1004},{"f":51,"h":99,"v":1004.8},
{"f":54,"h":54,"v":957.4},{"f":54,"h":55,"v":965.2},{"f":54,"h":56.2,"v":971.9},{"f":54,"h":56.8,"v":977},{"f":54,"h":57.5,"v":980.6},{"f":54,"h":59,"v":984},{"f":54,"h":60.5,"v":983.2},{"f":54,"h":63.6,"v":977},{"f":54,"h":65,"v":974.5},{"f":54,"h":67.5,"v":971.1},{"f":54,"h":68.4,"v":971.9},{"f":54,"h":69.7,"v":976.3},{"f":54,"h":71.2,"v":984.8},{"f":54,"h":72.7,"v":983.2},{"f":54,"h":74.5,"v":985.8},{"f":54,"h":75.8,"v":989.2},{"f":54,"h":77.3,"v":994.3},{"f":54,"h":78.8,"v":996.4},{"f":54,"h":80.6,"v":997.7},{"f":54,"h":85.1,"v":1001.3},{"f":54,"h":87.5,"v":1002.8},{"f":54,"h":90.5,"v":1002},{"f":54,"h":93,"v":1002.6},{"f":54,"h":95.6,"v":1003.9},{"f":54,"h":99.5,"v":1005.9},{"f":54,"h":101.6,"v":1004.1}
  ],
  "ibw": [{"h":8.7,"v":105},{"h":11.7,"v":105},{"h":14.7,"v":105},{"h":17.7,"v":105},{"h":20.7,"v":107},{"h":23.7,"v":109},{"h":26.7,"v":112},{"h":29.7,"v":115},{"h":32.7,"v":124},{"h":35.7,"v":134},{"h":38.7,"v":134},{"h":41.7,"v":134},{"h":44.7,"v":131},{"h":47.7,"v":128},{"h":50.7,"v":121},{"h":53.7,"v":115}],
  "ibw_bar": [{"h":8.7,"v":95,"v2":115},{"h":11.7,"v":95,"v2":115},{"h":14.7,"v":95,"v2":115},{"h":17.7,"v":95,"v2":115},{"h":20.7,"v":97,"v2":117},{"h":23.7,"v":99,"v2":119},{"h":26.7,"v":102,"v2":122},{"h":29.7,"v":105,"v2":125},{"h":32.7,"v":114,"v2":134},{"h":35.7,"v":124,"v2":144},{"h":38.7,"v":124,"v2":144},{"h":41.7,"v":124,"v2":144},{"h":44.7,"v":121,"v2":141},{"h":47.7,"v":118,"v2":138},{"h":50.7,"v":111,"v2":131},{"h":53.7,"v":105,"v2":125}],
  "ibp": [{"h":8.7,"v":951,"src":"IBTrACS US"},{"h":11.7,"v":951,"src":"IBTrACS US"},{"h":14.7,"v":951,"src":"IBTrACS US"},{"h":17.7,"v":951,"src":"IBTrACS US"},{"h":20.7,"v":949,"src":"IBTrACS US"},{"h":23.7,"v":948,"src":"IBTrACS US"},{"h":26.7,"v":943.5,"src":"IBTrACS US"},{"h":29.7,"v":939,"src":"IBTrACS US"},{"h":32.7,"v":928,"src":"IBTrACS US"},{"h":35.7,"v":917,"src":"IBTrACS US"},{"h":38.7,"v":918,"src":"IBTrACS US"},{"h":41.7,"v":920,"src":"IBTrACS US"},{"h":44.7,"v":921,"src":"IBTrACS US"},{"h":47.7,"v":923,"src":"IBTrACS US"},{"h":50.7,"v":932,"src":"IBTrACS US"},{"h":53.7,"v":942,"src":"IBTrACS US"}],
  "ibp_bar": [{"h":8.7,"v":948,"v2":954},{"h":11.7,"v":948,"v2":954},{"h":14.7,"v":948,"v2":954},{"h":17.7,"v":948,"v2":954},{"h":20.7,"v":946,"v2":952},{"h":23.7,"v":945,"v2":951},{"h":26.7,"v":940.5,"v2":946.5},{"h":29.7,"v":936,"v2":942},{"h":32.7,"v":925,"v2":931},{"h":35.7,"v":914,"v2":920},{"h":38.7,"v":915,"v2":921},{"h":41.7,"v":917,"v2":923},{"h":44.7,"v":918,"v2":924},{"h":47.7,"v":920,"v2":926},{"h":50.7,"v":929,"v2":935},{"h":53.7,"v":939,"v2":945}]
},
"vconcat": [
 {
  "width": 1107, "height": 402,
  "encoding": {
    "x": {"field": "h", "type": "quantitative", "scale": {"domain": [2.35, 102.25], "nice": false, "zero": false},
          "axis": {"values": [3,6,9,12,15,18,21,24,27,30,33,36,39,42,45,48,51,54,57,60,63,66,69,72,75,78,81,84,87,90,93,96,99,102], "labels": false, "domain": false, "title": null, "tickSize": {"condition": {"test": "datum.value % 12 === 0", "value": 10}, "value": 5}}},
    "y": {"field": "v", "type": "quantitative", "scale": {"domain": [16, 186], "nice": false, "zero": false},
          "axis": {"values": [25,50,75,100,125,150,175], "tickSize": 8, "labelPadding": 13, "titlePadding": 12, "title": "Speed (knots)"}}
  },
  "layer": [
    {"data": {"name": "gust"}, "mark": {"type": "line", "strokeWidth": 6.5, "strokeJoin": "round"},
     "encoding": {"color": {"field": "f", "type": "nominal", "legend": null, "scale": {"domain": [30,33,36,39,42,45,48,51,54], "range": ["#e3f4a8","#c2e6b0","#7fcdbb","#41b6c4","#1d91c0","#225ea8","#253494","#0c1d5a","#000000"]}}}},
    {"data": {"name": "gust"}, "mark": {"type": "line", "strokeWidth": 2.2, "color": "white", "strokeJoin": "round"},
     "encoding": {"detail": {"field": "f", "type": "nominal"}}},
    {"data": {"name": "era_g"}, "mark": {"type": "line", "strokeWidth": 4.5, "color": "black", "strokeJoin": "round"}, "encoding": {}},
    {"data": {"values": [{"h": 5.5, "v": 172.5, "t": "Maximum 3-sec Gust Speed"}]}, "mark": {"type": "text", "align": "left", "baseline": "middle", "fontSize": 26, "fontWeight": "bold", "color": "#aaaaaa", "font": "DejaVu Sans"}, "encoding": {"text": {"field": "t"}}},
    {"data": {"values": [{"h": 49, "v": 183.5, "t": "FANI"}]}, "mark": {"type": "text", "align": "center", "baseline": "middle", "fontSize": 28, "fontWeight": "bold", "color": "black", "font": "DejaVu Sans"}, "encoding": {"text": {"field": "t"}}}
  ]
 },
 {
  "width": 1107, "height": 400,
  "encoding": {
    "x": {"field": "h", "type": "quantitative", "scale": {"domain": [2.35, 102.25], "nice": false, "zero": false},
          "axis": {"values": [3,6,9,12,15,18,21,24,27,30,33,36,39,42,45,48,51,54,57,60,63,66,69,72,75,78,81,84,87,90,93,96,99,102], "labels": false, "domain": false, "title": null, "tickSize": {"condition": {"test": "datum.value % 12 === 0", "value": 10}, "value": 5}}},
    "y": {"field": "v", "type": "quantitative", "scale": {"domain": [11.3, 150.4], "nice": false, "zero": false},
          "axis": {"values": [20,40,60,80,100,120,140], "tickSize": 8, "labelPadding": 13, "titlePadding": 12, "title": "Speed (knots)"}}
  },
  "layer": [
    {"data": {"name": "ibw_bar"}, "mark": {"type": "rule", "color": "#808080", "strokeWidth": 2.5}, "encoding": {"y2": {"field": "v2"}}},
    {"data": {"name": "ibw"}, "mark": {"type": "point", "shape": "triangle-left", "filled": true, "fill": "#999999", "stroke": "#6e6e6e", "strokeWidth": 1, "size": 160, "opacity": 1}, "encoding": {}},
    {"data": {"name": "wind"}, "mark": {"type": "line", "strokeWidth": 4.5, "strokeJoin": "round"},
     "encoding": {"color": {"field": "f", "type": "nominal", "legend": null, "scale": {"domain": [30,33,36,39,42,45,48,51,54], "range": ["#fde0dd","#fcc5c0","#fa9fb5","#f768a1","#dd3497","#c51b8a","#ae017e","#7a0177","#5c2a8c"]}}}},
    {"data": {"name": "wind"}, "mark": {"type": "line", "strokeWidth": 1.6, "color": "white", "strokeJoin": "round"},
     "encoding": {"detail": {"field": "f", "type": "nominal"}}},
    {"data": {"name": "era_w"}, "mark": {"type": "line", "strokeWidth": 4.5, "color": "black", "strokeJoin": "round"}, "encoding": {}},
    {"data": {"values": [{"h": 5.5, "v": 139.7, "t": "Maximum Wind Speed"}]}, "mark": {"type": "text", "align": "left", "baseline": "middle", "fontSize": 26, "fontWeight": "bold", "color": "#aaaaaa", "font": "DejaVu Sans"}, "encoding": {"text": {"field": "t"}}}
  ]
 },
 {
  "width": 1107, "height": 402,
  "encoding": {
    "x": {"field": "h", "type": "quantitative", "scale": {"domain": [2.35, 102.25], "nice": false, "zero": false},
          "axis": {"values": [3,6,9,12,15,18,21,24,27,30,33,36,39,42,45,48,51,54,57,60,63,66,69,72,75,78,81,84,87,90,93,96,99,102], "title": null, "domain": true, "labelOverlap": false, "labelFlush": false, "labelPadding": 5, "labelLineHeight": 30, "labelBaseline": "top",
                   "labelExpr": "datum.value % 12 === 0 ? ['May-0' + (1 + floor(datum.value / 24)), (datum.value % 24 === 0 ? '00Z' : '12Z')] : ''",
                   "tickSize": {"condition": {"test": "datum.value % 12 === 0", "value": 10}, "value": 5}}},
    "y": {"field": "v", "type": "quantitative", "scale": {"domain": [909.2, 1012.9], "nice": false, "zero": false},
          "axis": {"values": [920,940,960,980,1000], "format": "d", "tickSize": 8, "labelPadding": 13, "titlePadding": 12, "title": "Pressure (hPa)"}}
  },
  "layer": [
    {"data": {"name": "ibp_bar"}, "mark": {"type": "rule", "color": "#808080", "strokeWidth": 2.5}, "encoding": {"y2": {"field": "v2"}}},
    {"data": {"name": "pres"}, "mark": {"type": "line", "strokeWidth": 6.5, "strokeJoin": "round"},
     "encoding": {"color": {"field": "f", "type": "nominal", "legend": null, "scale": {"domain": [30,33,36,39,42,45,48,51,54], "range": ["#ccece6","#99d8c9","#66c2a4","#41ae76","#238b45","#006d2c","#00441b","#0a1f0f","#000000"]}}}},
    {"data": {"name": "pres"}, "mark": {"type": "line", "strokeWidth": 2.2, "color": "white", "strokeJoin": "round"},
     "encoding": {"detail": {"field": "f", "type": "nominal"}}},
    {"data": {"name": "era_p"}, "mark": {"type": "line", "strokeWidth": 4.5, "color": "black", "strokeJoin": "round"}, "encoding": {}},
    {"data": {"name": "ibp"}, "mark": {"type": "point", "filled": true, "size": 160, "strokeWidth": 1, "opacity": 1},
     "encoding": {
       "shape": {"field": "src", "type": "nominal", "scale": {"domain": ["ERA5","IBTrACS US","IBTrACS ND"], "range": ["M-3.8,-0.36H3.8V0.36H-3.8Z","triangle-left","triangle-right"]}, "legend": {"orient": "none", "legendX": 960, "legendY": 299, "title": null}},
       "fill": {"field": "src", "type": "nominal", "scale": {"domain": ["ERA5","IBTrACS US","IBTrACS ND"], "range": ["#000000","#999999","#999999"]}, "legend": {"orient": "none", "legendX": 960, "legendY": 299, "title": null}},
       "stroke": {"field": "src", "type": "nominal", "scale": {"domain": ["ERA5","IBTrACS US","IBTrACS ND"], "range": ["#000000","#6e6e6e","#6e6e6e"]}, "legend": {"orient": "none", "legendX": 960, "legendY": 299, "title": null}}
     }},
    {"data": {"values": [{"h": 5.5, "v": 931.1, "t": "Minimum Mean"}, {"h": 5.5, "v": 923.1, "t": "Sea-level Pressure"}]}, "mark": {"type": "text", "align": "left", "baseline": "middle", "fontSize": 26, "fontWeight": "bold", "color": "#aaaaaa", "font": "DejaVu Sans"}, "encoding": {"text": {"field": "t"}}}
  ]
 }
]
}
